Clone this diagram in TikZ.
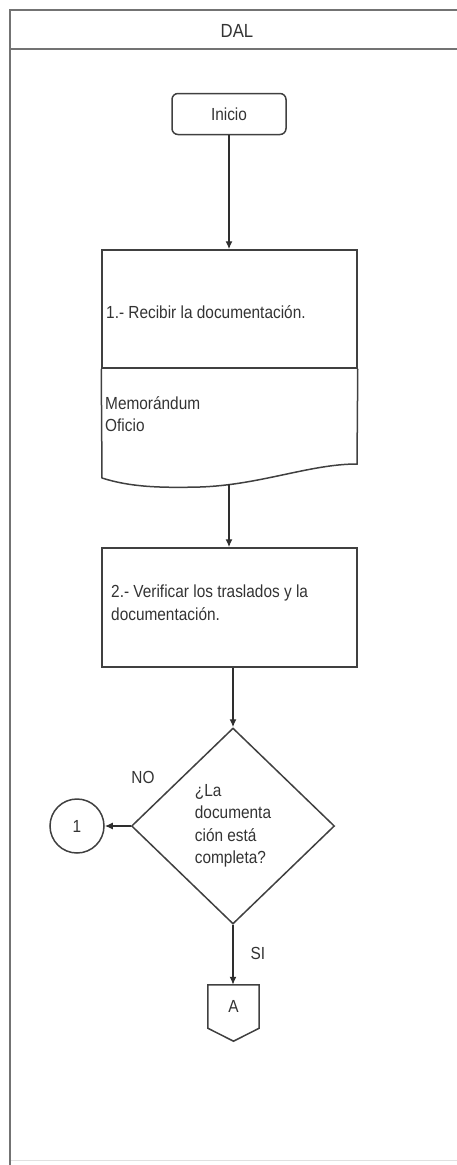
\documentclass[tikz,border=0pt]{standalone}
\usepackage{fontspec}
\setmainfont[FakeStretch=0.88]{Liberation Sans}
\usetikzlibrary{arrows.meta,shapes.geometric,calc}

\begin{document}
\begin{tikzpicture}[x=1pt,y=-1pt,
  frame/.style={draw=black!55, line width=2.2pt},
  line/.style={draw=black!75, line width=1.5pt},
  flow/.style={draw=black!82, line width=1.4pt, -{Latex[length=8pt,width=7pt]}},
  txt/.style={font=\fontsize{17.5}{22.5}\selectfont, text=black!80, inner sep=0pt},
  stepbox/.style={line, rectangle, minimum width=255pt, inner sep=0pt},
  decision/.style={line, diamond, minimum width=203pt, minimum height=196pt, inner sep=0pt,
                   align=left, font=\fontsize{17.5}{22.5}\selectfont, text=black!80},
  link/.style={line, circle, minimum size=54pt, inner sep=0pt,
               font=\fontsize{17.5}{20}\selectfont, text=black!80},
]
\useasboundingbox (0,0) rectangle (456,1165);

% swimlane frame with its header
\draw[frame] (470,10) -- (10,10) -- (10,1170);
\draw[frame] (10,49) -- (470,49);
\draw[draw=black!12, line width=0.8pt] (11,1160) -- (470,1160);
\node[txt, font=\fontsize{19}{20}\selectfont] (lane) at (237,31) {DAL};

% start
\node[line, rounded corners=6pt, minimum width=114pt, minimum height=41pt, inner sep=0pt,
      font=\fontsize{17.5}{20}\selectfont, text=black!80] (inicio) at (229,114) {Inicio};

% step 1 with its document part
\node[stepbox, minimum height=118pt] (s1) at (229.5,309) {};
\node[txt, anchor=west] (s1t) at (106,312) {1.- Recibir la documentación.};
\draw[line] (s1.south west) -- (102,478)
  .. controls (130,487) and (160,488) .. (200,487)
  .. controls (260,485) and (310,464) .. (357,464) -- (s1.south east);
\node[txt, anchor=north west, align=left] (docs) at (105,396) {Memorándum\\Oficio};
\coordinate (d1b) at (229,484);

% step 2
\node[stepbox, minimum height=119pt] (s2) at (229.5,607.5) {};
\node[txt, anchor=north west, align=left] (s2t) at (111,585) {2.- Verificar los traslados y la\\documentación.};

% decision
\node[decision] (dec) at (233,826) {¿La\\documenta\\ción está\\completa?};
\node[txt] (no) at (143,777) {NO};
\node[txt] (si) at (258,953) {SI};

% on-page connector
\node[link] (c1) at (77,826) {1};

% off-page connector
\node[rectangle, minimum width=51pt, minimum height=43pt, inner sep=0pt,
      font=\fontsize{17.5}{20}\selectfont, text=black!80] (offp) at (233.5,1006.5) {A};
\draw[line] (offp.south west) -- (offp.north west) -- (offp.north east) -- (offp.south east)
  -- ($(offp.south)+(0,13)$) -- cycle;

% connectors
\draw[flow] (inicio) -- (inicio |- s1.north);
\draw[flow] (d1b) -- (d1b |- s2.north);
\draw[flow] (dec.north |- s2.south) -- (dec.north);
\draw[flow] (dec.west) -- (c1.east);
\draw[flow] (dec.south) -- (dec.south |- offp.north);
\end{tikzpicture}
\end{document}
